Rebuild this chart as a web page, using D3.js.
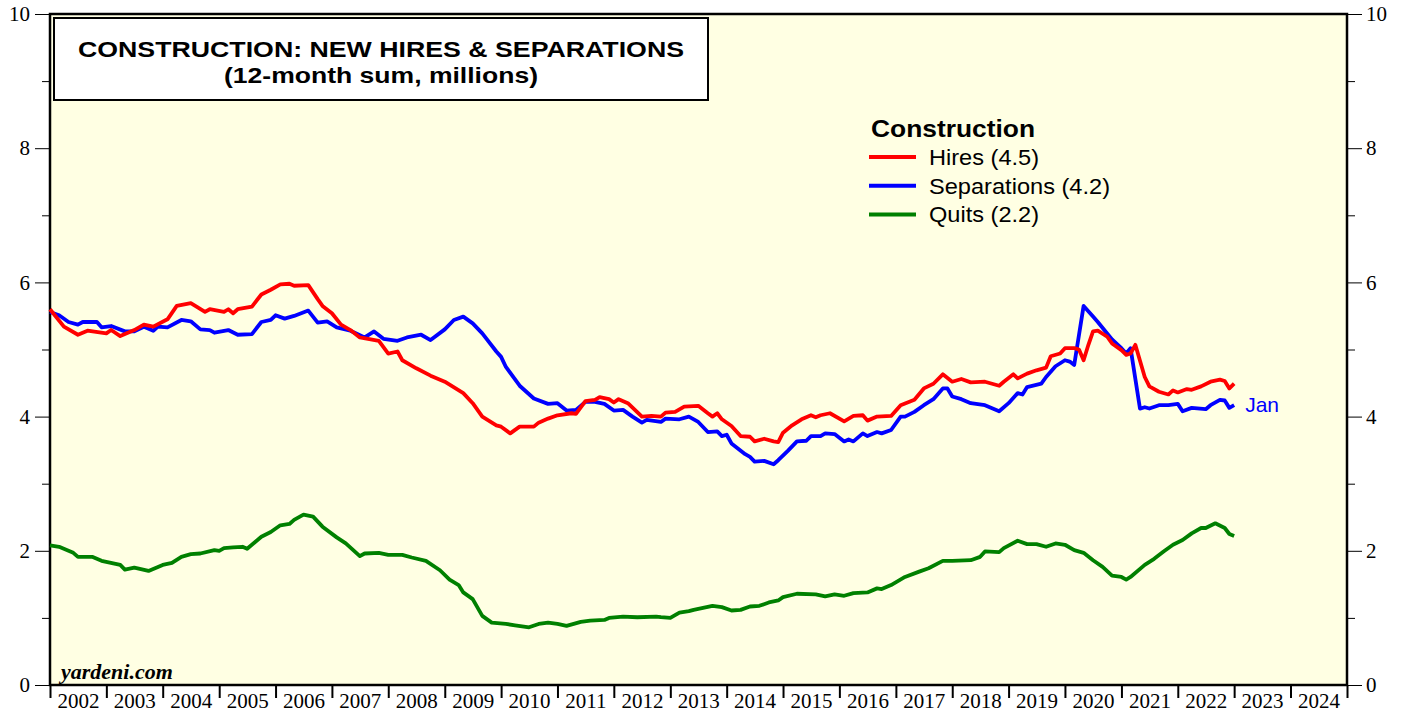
<!DOCTYPE html>
<html>
<head>
<meta charset="utf-8">
<script src="https://cdn.jsdelivr.net/npm/d3@7"></script>
<style>
  body { margin: 0; background: #fff; }
  svg { display: block; }
  .axis path, .axis line { stroke: #000; }
  .axis text { font-family: 'Liberation Serif', 'Times New Roman', serif; font-size: 21px; fill: #000; }
</style>
</head>
<body>
<div id="chart"></div>
<script>
// months since Jan 2002, 12-month sums in millions
const hiresMonth = [0, 3, 6, 8, 12, 13, 15, 18, 20, 22, 25, 27, 30, 33, 34, 37, 38, 39, 40, 43, 45, 47, 49, 51, 52, 55, 57, 58, 60, 62, 64, 66, 70, 72, 74, 75, 78, 81, 84, 88, 90, 92, 95, 96, 98, 100, 103, 104, 106, 108, 111, 112, 114, 116, 117, 119, 120, 121, 123, 126, 128, 130, 131, 133, 135, 138, 140, 141, 142, 143, 145, 147, 149, 150, 152, 154, 155, 156, 158, 160, 162, 163, 164, 166, 169, 171, 173, 174, 176, 179, 181, 184, 186, 188, 190, 192, 194, 196, 199, 202, 203, 205, 206, 208, 210, 212, 213, 215, 216, 218, 219, 220, 221, 222, 223, 225, 226, 228, 229, 230, 231, 233, 234, 236, 238, 239, 240, 242, 243, 245, 247, 249, 250, 251, 252];
const hiresValue = [5.60, 5.34, 5.22, 5.28, 5.24, 5.29, 5.20, 5.29, 5.37, 5.34, 5.45, 5.65, 5.69, 5.56, 5.60, 5.56, 5.60, 5.54, 5.60, 5.64, 5.82, 5.89, 5.97, 5.98, 5.95, 5.96, 5.75, 5.65, 5.54, 5.37, 5.29, 5.18, 5.13, 4.94, 4.97, 4.84, 4.72, 4.61, 4.52, 4.35, 4.20, 4.00, 3.87, 3.85, 3.75, 3.85, 3.85, 3.91, 3.97, 4.02, 4.05, 4.04, 4.23, 4.25, 4.29, 4.26, 4.21, 4.26, 4.20, 4.00, 4.01, 4.00, 4.06, 4.07, 4.15, 4.16, 4.05, 4.00, 4.05, 3.96, 3.86, 3.71, 3.70, 3.63, 3.67, 3.63, 3.62, 3.76, 3.87, 3.96, 4.02, 3.99, 4.02, 4.05, 3.93, 4.01, 4.02, 3.94, 4.00, 4.01, 4.17, 4.25, 4.42, 4.49, 4.63, 4.52, 4.56, 4.51, 4.52, 4.46, 4.52, 4.63, 4.57, 4.64, 4.69, 4.73, 4.90, 4.94, 5.02, 5.02, 5.00, 4.84, 5.07, 5.27, 5.28, 5.19, 5.09, 4.99, 4.92, 4.94, 5.07, 4.59, 4.45, 4.37, 4.33, 4.39, 4.36, 4.41, 4.40, 4.45, 4.52, 4.55, 4.53, 4.42, 4.49];

const sepMonth = [0, 2, 4, 6, 7, 10, 11, 13, 16, 18, 20, 22, 23, 25, 28, 30, 32, 34, 35, 38, 40, 43, 45, 47, 48, 50, 52, 55, 57, 59, 61, 64, 67, 69, 71, 74, 76, 79, 81, 84, 86, 88, 90, 92, 95, 96, 97, 100, 103, 106, 108, 110, 112, 114, 116, 118, 120, 122, 124, 126, 127, 130, 131, 134, 136, 138, 140, 142, 143, 144, 145, 148, 149, 150, 152, 154, 155, 157, 159, 161, 162, 164, 165, 167, 169, 170, 171, 173, 174, 176, 177, 179, 181, 182, 184, 186, 188, 190, 191, 192, 194, 196, 199, 202, 204, 206, 207, 208, 211, 212, 214, 216, 217, 218, 220, 222, 223, 226, 228, 229, 230, 232, 233, 234, 236, 238, 240, 241, 243, 246, 247, 249, 250, 251, 252];
const sepValue = [5.56, 5.51, 5.41, 5.37, 5.41, 5.41, 5.33, 5.35, 5.27, 5.27, 5.34, 5.28, 5.34, 5.33, 5.44, 5.42, 5.30, 5.29, 5.25, 5.29, 5.22, 5.23, 5.41, 5.44, 5.51, 5.46, 5.50, 5.58, 5.40, 5.42, 5.33, 5.28, 5.18, 5.27, 5.16, 5.13, 5.18, 5.22, 5.14, 5.30, 5.44, 5.49, 5.39, 5.24, 4.97, 4.89, 4.74, 4.46, 4.27, 4.19, 4.20, 4.09, 4.10, 4.22, 4.22, 4.19, 4.09, 4.10, 4.00, 3.91, 3.95, 3.92, 3.97, 3.96, 4.00, 3.92, 3.77, 3.78, 3.71, 3.73, 3.60, 3.44, 3.40, 3.33, 3.34, 3.29, 3.35, 3.49, 3.63, 3.64, 3.71, 3.71, 3.75, 3.74, 3.63, 3.66, 3.63, 3.75, 3.71, 3.77, 3.75, 3.80, 4.00, 4.00, 4.07, 4.17, 4.26, 4.42, 4.42, 4.30, 4.26, 4.20, 4.17, 4.08, 4.20, 4.35, 4.33, 4.44, 4.49, 4.59, 4.75, 4.84, 4.82, 4.77, 5.65, 5.49, 5.41, 5.15, 5.02, 4.94, 5.02, 4.12, 4.14, 4.12, 4.17, 4.17, 4.19, 4.08, 4.13, 4.11, 4.17, 4.25, 4.24, 4.13, 4.17];

const quitsMonth = [0, 2, 4, 5, 6, 9, 11, 15, 16, 18, 21, 24, 26, 28, 30, 32, 35, 36, 37, 39, 41, 42, 45, 47, 49, 51, 52, 54, 56, 58, 61, 63, 66, 67, 70, 72, 75, 77, 80, 83, 85, 87, 88, 90, 92, 94, 97, 99, 102, 104, 106, 108, 110, 113, 115, 118, 119, 122, 125, 129, 130, 132, 134, 136, 137, 141, 143, 145, 147, 149, 151, 153, 155, 156, 159, 163, 165, 167, 169, 171, 174, 176, 177, 179, 182, 185, 187, 190, 192, 196, 198, 199, 202, 203, 206, 208, 210, 212, 214, 216, 218, 220, 222, 224, 226, 228, 229, 230, 233, 235, 237, 239, 241, 243, 245, 246, 248, 250, 251, 252];
const quitsValue = [2.08, 2.06, 2.00, 1.97, 1.91, 1.91, 1.85, 1.79, 1.72, 1.75, 1.70, 1.79, 1.82, 1.91, 1.95, 1.96, 2.01, 2.00, 2.04, 2.05, 2.06, 2.03, 2.21, 2.28, 2.38, 2.40, 2.46, 2.54, 2.51, 2.36, 2.20, 2.11, 1.92, 1.96, 1.97, 1.94, 1.94, 1.90, 1.85, 1.71, 1.57, 1.49, 1.38, 1.28, 1.03, 0.93, 0.91, 0.89, 0.86, 0.91, 0.93, 0.91, 0.88, 0.94, 0.96, 0.97, 1.00, 1.02, 1.01, 1.02, 1.01, 1.00, 1.08, 1.10, 1.12, 1.18, 1.16, 1.11, 1.12, 1.17, 1.18, 1.23, 1.26, 1.31, 1.36, 1.35, 1.32, 1.35, 1.33, 1.37, 1.38, 1.44, 1.43, 1.49, 1.61, 1.69, 1.74, 1.85, 1.85, 1.86, 1.91, 1.99, 1.98, 2.04, 2.15, 2.10, 2.10, 2.06, 2.11, 2.09, 2.01, 1.97, 1.86, 1.76, 1.63, 1.61, 1.57, 1.61, 1.79, 1.88, 1.99, 2.09, 2.16, 2.26, 2.34, 2.34, 2.41, 2.34, 2.25, 2.22];

const years = d3.range(2002, 2025);
const legendLabels = ['Hires (4.5)', 'Separations (4.2)', 'Quits (2.2)'];
const seriesColors = ['#ff0000', '#0000ff', '#008000'];

class JoltsChart {
    constructor(containerID, width, height) {
        this.containerID = containerID;
        this.width = width;
        this.height = height;
        this.margin = { top: 14, right: 58, bottom: 34, left: 50 };

        this.initVis();
    }

    initVis() {
        let vis = this;

        vis.innerW = vis.width - vis.margin.left - vis.margin.right;
        vis.innerH = vis.height - vis.margin.top - vis.margin.bottom;

        vis.svg = d3.select(vis.containerID)
            .append('svg')
            .attr('width', vis.width)
            .attr('height', vis.height)
            .append('g')
            .attr('transform', `translate(${vis.margin.left},${vis.margin.top})`);

        // Scales
        vis.xScale = d3.scaleTime()
            .domain([new Date(2002, 0, 1), new Date(2025, 0, 1)])
            .range([0, vis.innerW]);

        vis.yScale = d3.scaleLinear()
            .domain([0, 10])
            .range([vis.innerH, 0]);

        // Plot background
        vis.svg.append('rect')
            .attr('width', vis.innerW)
            .attr('height', vis.innerH)
            .attr('fill', '#ffffe3');

        vis.series = [
            { months: hiresMonth, values: hiresValue },
            { months: sepMonth, values: sepValue },
            { months: quitsMonth, values: quitsValue }
        ].map((s, i) => ({
            color: seriesColors[i],
            label: legendLabels[i],
            points: s.months.map((m, j) => ({ date: new Date(2002, m, 1), value: s.values[j] }))
        }));

        vis.drawAxes();
        vis.updateVis();
        vis.drawAnnotations();
    }

    drawAxes() {
        let vis = this;
        const majors = d3.range(0, 11, 2);
        const minors = d3.range(1, 10, 2);

        // Left axis
        vis.svg.append('g')
            .attr('class', 'axis')
            .call(d3.axisLeft(vis.yScale).tickValues(majors).tickSize(15).tickPadding(5))
            .call(g => g.select('.domain').remove());
        vis.svg.append('g')
            .attr('class', 'axis')
            .call(d3.axisLeft(vis.yScale).tickValues(minors).tickSize(8).tickFormat(''))
            .call(g => g.select('.domain').remove());

        // Right axis
        vis.svg.append('g')
            .attr('class', 'axis')
            .attr('transform', `translate(${vis.innerW},0)`)
            .call(d3.axisRight(vis.yScale).tickValues(majors).tickSize(15).tickPadding(4))
            .call(g => g.select('.domain').remove());
        vis.svg.append('g')
            .attr('class', 'axis')
            .attr('transform', `translate(${vis.innerW},0)`)
            .call(d3.axisRight(vis.yScale).tickValues(minors).tickSize(8).tickFormat(''))
            .call(g => g.select('.domain').remove());

        // Bottom axis: year boundaries, labels centred in each year
        vis.svg.append('g')
            .attr('class', 'axis')
            .attr('transform', `translate(0,${vis.innerH})`)
            .call(d3.axisBottom(vis.xScale)
                .tickValues(years.concat([2025]).map(y => new Date(y, 0, 1)))
                .tickSize(13).tickFormat(''))
            .call(g => g.select('.domain').remove())
            .selectAll('line').attr('stroke-width', 2);

        vis.svg.append('g')
            .attr('class', 'axis')
            .attr('transform', `translate(0,${vis.innerH})`)
            .call(d3.axisBottom(vis.xScale)
                .tickValues(years.map(y => new Date(y, 6, 1)))
                .tickSize(0).tickPadding(8)
                .tickFormat(d3.timeFormat('%Y')))
            .call(g => g.select('.domain').remove());

        // Frame
        vis.svg.append('rect')
            .attr('width', vis.innerW)
            .attr('height', vis.innerH)
            .attr('fill', 'none')
            .attr('stroke', '#000')
            .attr('stroke-width', 2.5);
    }

    updateVis() {
        let vis = this;

        vis.line = d3.line()
            .x(d => vis.xScale(d.date))
            .y(d => vis.yScale(d.value));

        vis.svg.append('g')
            .selectAll('.series')
            .data(vis.series.slice().reverse())
            .join('path')
            .attr('class', 'series')
            .attr('d', d => vis.line(d.points))
            .attr('fill', 'none')
            .attr('stroke', d => d.color)
            .attr('stroke-width', 3.8)
            .attr('stroke-linejoin', 'round');

        // end label on separations
        const lastSep = vis.series[1].points[vis.series[1].points.length - 1];
        vis.svg.append('text')
            .attr('x', vis.xScale(lastSep.date) + 11)
            .attr('y', vis.yScale(lastSep.value) + 7)
            .attr('fill', '#0000ff')
            .attr('font-family', 'Liberation Sans, Arial, sans-serif')
            .attr('font-size', 21)
            .text('Jan');
    }

    drawAnnotations() {
        let vis = this;
        const sans = 'Liberation Sans, Arial, sans-serif';

        // Title box
        const title = vis.svg.append('g').attr('transform', 'translate(4,4)');
        title.append('rect')
            .attr('width', 654)
            .attr('height', 82)
            .attr('fill', '#fff')
            .attr('stroke', '#000')
            .attr('stroke-width', 2);
        title.append('text')
            .attr('x', 327).attr('y', 39)
            .attr('text-anchor', 'middle')
            .attr('font-family', sans)
            .attr('font-weight', 'bold')
            .attr('font-size', 22)
            .attr('textLength', 606)
            .attr('lengthAdjust', 'spacingAndGlyphs')
            .text('CONSTRUCTION: NEW HIRES & SEPARATIONS');
        title.append('text')
            .attr('x', 327).attr('y', 65)
            .attr('text-anchor', 'middle')
            .attr('font-family', sans)
            .attr('font-weight', 'bold')
            .attr('font-size', 22)
            .attr('textLength', 314)
            .attr('lengthAdjust', 'spacingAndGlyphs')
            .text('(12-month sum, millions)');

        // Legend
        const legend = vis.svg.append('g').attr('transform', 'translate(819,0)');
        legend.append('text')
            .attr('x', 2).attr('y', 123)
            .attr('font-family', sans)
            .attr('font-weight', 'bold')
            .attr('font-size', 24)
            .attr('textLength', 164)
            .attr('lengthAdjust', 'spacingAndGlyphs')
            .text('Construction');
        const itemWidths = [110, 181, 110];
        const items = legend.selectAll('.item')
            .data(vis.series)
            .join('g')
            .attr('class', 'item')
            .attr('transform', (d, i) => `translate(0,${143 + i * 28.7})`);
        items.append('line')
            .attr('x1', 0).attr('x2', 47)
            .attr('stroke', d => d.color)
            .attr('stroke-width', 4);
        items.append('text')
            .attr('x', 60).attr('y', 8)
            .attr('font-family', sans)
            .attr('font-size', 22)
            .attr('textLength', (d, i) => itemWidths[i])
            .attr('lengthAdjust', 'spacingAndGlyphs')
            .text(d => d.label);

        // Source
        vis.svg.append('text')
            .attr('x', 11).attr('y', vis.innerH - 6)
            .attr('font-family', 'Liberation Serif, Times New Roman, serif')
            .attr('font-weight', 'bold')
            .attr('font-style', 'italic')
            .attr('font-size', 22)
            .text('yardeni.com');
    }
}

new JoltsChart('#chart', 1405, 719);
</script>
</body>
</html>
